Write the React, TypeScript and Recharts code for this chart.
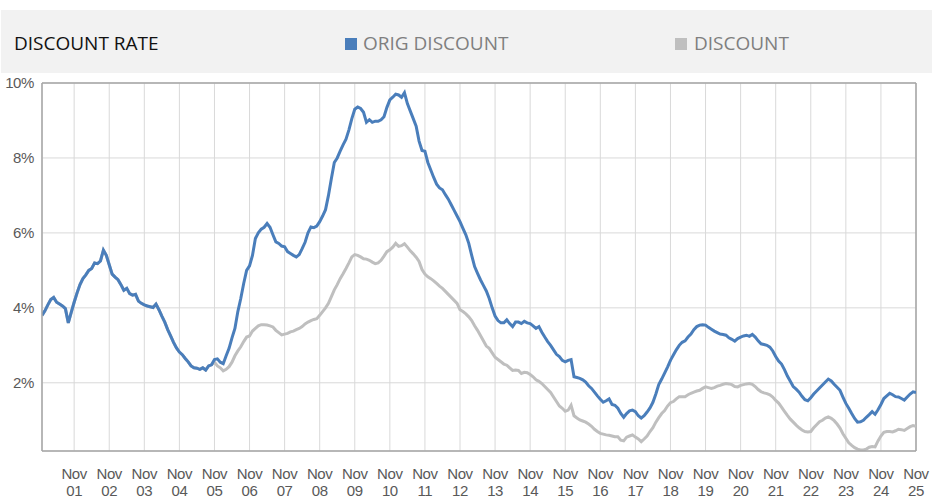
import React from 'react';
import { LineChart, Line, XAxis, YAxis, CartesianGrid, Legend, ReferenceLine } from 'recharts';

// Monthly observations, Dec 2000 .. Nov 2025 (one row per Dec..Nov year)
const START_LABEL = 'Dec 2000';

const origDiscount = [
  3.80, 3.92, 4.08, 4.22, 4.28, 4.15, 4.10, 4.05, 3.98, 3.60, 3.88, 4.15,
  4.40, 4.62, 4.78, 4.88, 5.00, 5.05, 5.20, 5.18, 5.25, 5.54, 5.40, 5.15,
  4.90, 4.82, 4.75, 4.62, 4.47, 4.52, 4.38, 4.34, 4.36, 4.18, 4.12, 4.08,
  4.05, 4.03, 4.01, 4.10, 3.95, 3.78, 3.62, 3.42, 3.25, 3.08, 2.93, 2.82,
  2.75, 2.65, 2.56, 2.45, 2.40, 2.39, 2.36, 2.40, 2.34, 2.45, 2.48, 2.62,
  2.64, 2.55, 2.51, 2.72, 2.92, 3.20, 3.45, 3.90, 4.25, 4.65, 5.00, 5.12,
  5.40, 5.85, 6.00, 6.10, 6.15, 6.25, 6.15, 5.95, 5.76, 5.72, 5.65, 5.63,
  5.50, 5.45, 5.40, 5.36, 5.42, 5.58, 5.75, 6.00, 6.16, 6.14, 6.18, 6.30,
  6.45, 6.62, 7.00, 7.45, 7.88, 8.00, 8.18, 8.35, 8.50, 8.75, 9.05, 9.30,
  9.36, 9.32, 9.22, 8.95, 9.02, 8.95, 8.98, 8.98, 9.02, 9.10, 9.35, 9.55,
  9.62, 9.70, 9.68, 9.62, 9.74, 9.45, 9.25, 9.05, 8.85, 8.45, 8.20, 8.18,
  7.88, 7.68, 7.48, 7.30, 7.20, 7.15, 7.02, 6.90, 6.75, 6.60, 6.45, 6.30,
  6.12, 5.95, 5.72, 5.40, 5.10, 4.92, 4.75, 4.60, 4.45, 4.25, 4.00, 3.78,
  3.66, 3.60, 3.60, 3.68, 3.58, 3.50, 3.62, 3.62, 3.58, 3.64, 3.60, 3.58,
  3.52, 3.45, 3.50, 3.35, 3.22, 3.10, 3.00, 2.88, 2.76, 2.70, 2.60, 2.56,
  2.60, 2.62, 2.16, 2.14, 2.12, 2.08, 2.02, 1.92, 1.85, 1.75, 1.65, 1.56,
  1.48, 1.52, 1.57, 1.42, 1.40, 1.32, 1.18, 1.08, 1.18, 1.25, 1.27, 1.23,
  1.12, 1.06, 1.12, 1.22, 1.33, 1.48, 1.70, 1.95, 2.10, 2.26, 2.42, 2.60,
  2.74, 2.88, 3.00, 3.08, 3.12, 3.22, 3.30, 3.42, 3.50, 3.54, 3.55, 3.54,
  3.48, 3.43, 3.38, 3.34, 3.30, 3.29, 3.27, 3.20, 3.16, 3.11, 3.18, 3.22,
  3.25, 3.27, 3.24, 3.29, 3.22, 3.12, 3.04, 3.02, 3.00, 2.95, 2.85, 2.70,
  2.58, 2.50, 2.35, 2.18, 2.04, 1.90, 1.83, 1.75, 1.64, 1.55, 1.52, 1.60,
  1.70, 1.78, 1.86, 1.94, 2.02, 2.10, 2.05, 1.96, 1.88, 1.80, 1.62, 1.45,
  1.32, 1.18, 1.05, 0.95, 0.96, 1.00, 1.08, 1.15, 1.23, 1.16, 1.28, 1.42,
  1.58, 1.65, 1.72, 1.68, 1.63, 1.62, 1.58, 1.54, 1.62, 1.70, 1.76, 1.74,
];

const discount = [
  3.80, 3.92, 4.08, 4.22, 4.28, 4.15, 4.10, 4.05, 3.98, 3.60, 3.88, 4.15,
  4.40, 4.62, 4.78, 4.88, 5.00, 5.05, 5.20, 5.18, 5.25, 5.54, 5.40, 5.15,
  4.90, 4.82, 4.75, 4.62, 4.47, 4.52, 4.38, 4.34, 4.36, 4.18, 4.12, 4.08,
  4.05, 4.03, 4.01, 4.10, 3.95, 3.78, 3.62, 3.42, 3.25, 3.08, 2.93, 2.82,
  2.75, 2.65, 2.56, 2.45, 2.40, 2.39, 2.36, 2.40, 2.34, 2.45, 2.48, 2.55,
  2.45, 2.40, 2.32, 2.36, 2.43, 2.55, 2.72, 2.85, 2.96, 3.10, 3.22, 3.25,
  3.38, 3.45, 3.52, 3.55, 3.55, 3.54, 3.52, 3.49, 3.40, 3.34, 3.28, 3.30,
  3.32, 3.36, 3.38, 3.42, 3.45, 3.50, 3.57, 3.62, 3.66, 3.69, 3.71, 3.80,
  3.90, 4.00, 4.12, 4.30, 4.48, 4.62, 4.78, 4.91, 5.05, 5.20, 5.36, 5.42,
  5.40, 5.36, 5.31, 5.30, 5.27, 5.22, 5.18, 5.20, 5.27, 5.38, 5.50, 5.55,
  5.62, 5.72, 5.64, 5.66, 5.71, 5.62, 5.52, 5.44, 5.35, 5.24, 5.02, 4.90,
  4.83, 4.78, 4.72, 4.65, 4.58, 4.52, 4.44, 4.36, 4.28, 4.20, 4.12, 3.95,
  3.90, 3.84, 3.76, 3.66, 3.52, 3.40, 3.26, 3.12, 2.98, 2.92, 2.80, 2.68,
  2.62, 2.56, 2.50, 2.47, 2.40, 2.33, 2.34, 2.33, 2.25, 2.28, 2.27, 2.22,
  2.16, 2.08, 2.04, 1.98, 1.90, 1.82, 1.74, 1.62, 1.50, 1.38, 1.32, 1.24,
  1.27, 1.40, 1.12, 1.06, 1.01, 0.98, 0.95, 0.90, 0.84, 0.76, 0.70, 0.65,
  0.63, 0.61, 0.60, 0.58, 0.56, 0.56, 0.47, 0.45, 0.55, 0.58, 0.61, 0.55,
  0.50, 0.43, 0.50, 0.58, 0.70, 0.80, 0.95, 1.07, 1.18, 1.26, 1.38, 1.47,
  1.50, 1.57, 1.63, 1.63, 1.63, 1.68, 1.72, 1.75, 1.78, 1.80, 1.85, 1.89,
  1.87, 1.85, 1.87, 1.91, 1.93, 1.96, 1.98, 1.97, 1.95, 1.90, 1.89, 1.93,
  1.95, 1.97, 1.98, 1.96, 1.90, 1.82, 1.76, 1.73, 1.71, 1.68, 1.62, 1.53,
  1.46, 1.35, 1.24, 1.13, 1.03, 0.95, 0.87, 0.80, 0.74, 0.70, 0.69, 0.70,
  0.80, 0.88, 0.96, 1.00, 1.06, 1.09, 1.05, 0.99, 0.90, 0.79, 0.64, 0.52,
  0.40, 0.33, 0.27, 0.23, 0.21, 0.21, 0.23, 0.28, 0.30, 0.29, 0.45, 0.58,
  0.68, 0.70, 0.70, 0.69, 0.72, 0.76, 0.75, 0.73, 0.78, 0.83, 0.86, 0.84,
];

const tickMonth = 'Nov';
const tickYears = [
  '01', '02', '03', '04', '05', '06', '07', '08', '09', '10', '11', '12', '13',
  '14', '15', '16', '17', '18', '19', '20', '21', '22', '23', '24', '25',
];
const yTicks = [2, 4, 6, 8, 10];

const TITLE = 'DISCOUNT RATE';
const ORIG_NAME = 'ORIG DISCOUNT';
const DISC_NAME = 'DISCOUNT';
const BLUE = '#4a7ebb';
const GREY = '#bfbfbf';

const data = origDiscount.map((v, i) => ({ i, orig: v, disc: discount[i] }));
// first Nov is the 12th observation (index 11), then every 12 months
const novTicks = tickYears.map((_, k) => 11 + 12 * k);
const yearOf = (i: number) => tickYears[Math.round((i - 11) / 12)];

const XTick = (props: any) => {
  const { x, y, payload } = props;
  return (
    <g>
      <text x={x} y={y + 26} textAnchor="middle" fontFamily="'Liberation Sans', Arial, sans-serif" fontSize={15} fill="#595959" letterSpacing={-0.4}>
        {tickMonth}
      </text>
      <text x={x} y={y + 42.5} textAnchor="middle" fontFamily="'Liberation Sans', Arial, sans-serif" fontSize={15} fill="#595959" letterSpacing={-0.4}>
        {yearOf(payload.value)}
      </text>
    </g>
  );
};

const Header = () => (
  <div style={{ position: 'relative', width: 931, height: 63, background: '#f2f2f2', fontFamily: "'Open Sans', sans-serif", fontSize: 19 }}>
    <span style={{ position: 'absolute', left: 13, top: 20, color: '#111', lineHeight: '26px', whiteSpace: 'nowrap' }}>{TITLE}</span>
    <span style={{ position: 'absolute', left: 344, top: 28, width: 12, height: 12, background: BLUE }} />
    <span style={{ position: 'absolute', left: 362, top: 20, color: '#7f7f7f', lineHeight: '26px', whiteSpace: 'nowrap' }}>{ORIG_NAME}</span>
    <span style={{ position: 'absolute', left: 674, top: 28, width: 12, height: 12, background: GREY }} />
    <span style={{ position: 'absolute', left: 693, top: 20, color: '#7f7f7f', lineHeight: '26px', whiteSpace: 'nowrap' }}>{DISC_NAME}</span>
  </div>
);

export default function App() {
  return (
    <div style={{ position: 'absolute', left: 0, top: 0, width: 932, height: 497, background: '#fff', overflow: 'hidden' }}>
      <LineChart width={932} height={497} data={data} margin={{ top: 83, right: 16, bottom: 16, left: 0 }}>
        <CartesianGrid stroke="#d9d9d9" strokeWidth={1} />
        <XAxis
          dataKey="i"
          type="number"
          height={30}
          domain={[0, 299]}
          ticks={novTicks}
          interval={0}
          tick={<XTick />}
          tickLine={false}
          tickSize={0}
          axisLine={{ stroke: '#a6a6a6', strokeWidth: 1.5 }}
          allowDataOverflow
        />
        <YAxis
          type="number"
          width={42}
          domain={[0.18, 10]}
          ticks={yTicks}
          interval={0}
          allowDataOverflow
          tickFormatter={(v: number) => `${v}%`}
          tickLine={false}
          tickSize={0}
          tickMargin={8}
          axisLine={{ stroke: '#a6a6a6', strokeWidth: 1.5 }}
          tick={{ fill: '#595959', fontSize: 15, fontFamily: "'Liberation Sans', Arial, sans-serif", letterSpacing: -0.4 }}
        />
        <ReferenceLine y={10} stroke="#a6a6a6" strokeWidth={1.5} />
        <ReferenceLine x={299} stroke="#a6a6a6" strokeWidth={1.5} />
        <Legend
          layout="vertical"
          align="center"
          verticalAlign="middle"
          wrapperStyle={{ position: 'absolute', top: 10, left: 1, width: 931, height: 63 }}
          content={() => <Header />}
        />
        <Line type="linear" dataKey="disc" name={DISC_NAME} stroke={GREY} strokeWidth={3} dot={false} activeDot={false} isAnimationActive={false} />
        <Line type="linear" dataKey="orig" name={ORIG_NAME} stroke={BLUE} strokeWidth={3} dot={false} activeDot={false} isAnimationActive={false} />
      </LineChart>
    </div>
  );
}
